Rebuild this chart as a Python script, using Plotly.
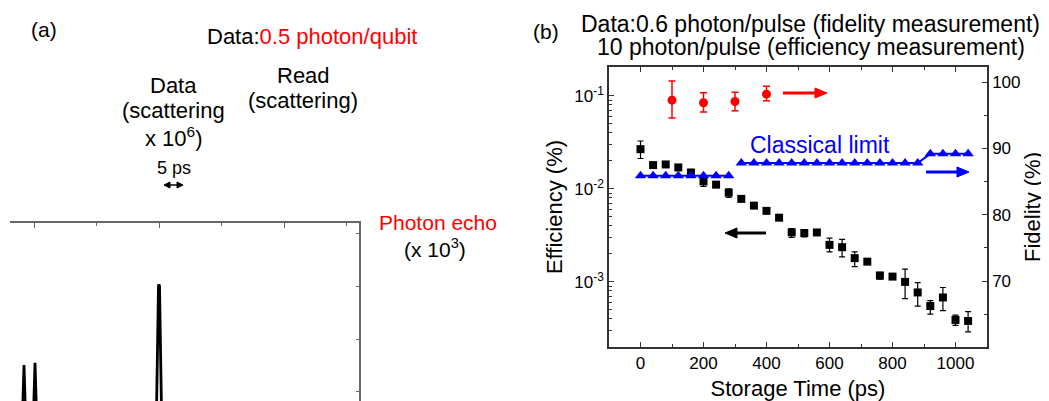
import plotly.graph_objects as go

# The page body has an 8 px margin, so the figure is sized to fill the rest of the window
OFF = 8
W, H = 1049 - OFF, 401 - OFF
FONT = "Liberation Sans, Arial, sans-serif"

# ---------------- panel (a): photon echo trace (visible part) ----------------
echo_t = [-19.0, -9.3, -8.0, -6.7, -0.5, 0.8, 2.1, 97.9, 99.6, 100.0, 100.4, 102.1, 260.0]
echo_y = [-0.5, -0.5, 0.51, -0.5, -0.5, 0.55, -0.5, -0.5, 2.0, 2.03, 2.0, -0.5, -0.5]

# ---------------- panel (b): efficiency / fidelity vs storage time ----------------
eff_t = [0, 40, 80, 120, 160, 200, 240, 280, 320, 360, 400, 440, 480, 520,
         560, 600, 640, 680, 720, 760, 800, 840, 880, 920, 960, 1000, 1040]
eff_v = [0.0267, 0.0180, 0.0183, 0.0170, 0.0150, 0.0120, 0.0111, 0.0091, 0.0078,
         0.0066, 0.0058, 0.0049, 0.00340, 0.00335, 0.00340, 0.00250, 0.00236,
         0.00180, 0.00165, 0.00117, 0.00114, 0.00100, 0.00077, 0.00055, 0.00068,
         0.00039, 0.00038]
eff_err_hi = [0.0060, 0.0008, 0.0008, 0.0007, 0.0006, 0.0013, 0.0005, 0.0009, 0.0003,
              0.0003, 0.0002, 0.0002, 0.00035, 0.0003, 0.0002, 0.00045, 0.0005,
              0.0003, 0.0001, 0.0001, 0.00005, 0.00037, 0.00021, 0.00008, 0.00019,
              0.00005, 0.00010]
eff_err_lo = [0.0055, 0.0008, 0.0008, 0.0007, 0.0006, 0.0014, 0.0005, 0.0010, 0.0003,
              0.0003, 0.0002, 0.0002, 0.00040, 0.0003, 0.0002, 0.00040, 0.0005,
              0.00034, 0.0001, 0.0001, 0.00005, 0.00034, 0.00022, 0.00010, 0.00019,
              0.00005, 0.00009]

fid_t = [100, 200, 300, 400]
fid_v = [97.3, 96.9, 97.1, 98.2]
fid_err_hi = [2.9, 1.5, 1.4, 1.2]
fid_err_lo = [2.7, 1.4, 1.4, 1.0]

cl1_t = [0, 40, 80, 120, 160, 200, 240, 280]
cl1_v = [85.9, 85.9, 85.9, 85.9, 85.9, 85.9, 85.9, 85.9]
cl2_t = [320, 360, 400, 440, 480, 520, 560, 600, 640, 680, 720, 760, 800, 840,
         880, 920, 960, 1000, 1040]
cl2_v = [87.8, 87.8, 87.8, 87.8, 87.8, 87.8, 87.8, 87.8, 87.8, 87.8, 87.8, 87.8,
         87.8, 87.8, 87.8, 89.2, 89.2, 89.2, 89.2]

x_ticks = [0, 200, 400, 600, 800, 1000]
x_minor = [-100, 100, 300, 500, 700, 900, 1100]
eff_ticks = [1e-3, 1e-2, 1e-1]
eff_ticktext = ["10<sup>-3</sup>", "10<sup>-2</sup>", "10<sup>-1</sup>"]
fid_ticks = [70, 80, 90, 100]
fid_minor = [65, 75, 85, 95]

RED, BLUE, BLACK = "#ff0000", "#0000ff", "#000000"
AX = "#333333"


def px(x):
    return (x - OFF) / W


def py(y):
    return 1 - (y - OFF) / H


fig = go.Figure()

fig.add_trace(go.Scatter(x=echo_t, y=echo_y, mode="lines",
                         line=dict(color=BLACK, width=2.8),
                         xaxis="x", yaxis="y", showlegend=False))

fig.add_trace(go.Scatter(x=eff_t, y=eff_v, mode="markers",
                         marker=dict(symbol="square", size=8, color=BLACK),
                         error_y=dict(type="data", symmetric=False, array=eff_err_hi,
                                      arrayminus=eff_err_lo, color=BLACK,
                                      thickness=1.2, width=3),
                         xaxis="x2", yaxis="y2", showlegend=False))

fig.add_trace(go.Scatter(x=cl1_t, y=cl1_v, mode="lines+markers",
                         marker=dict(symbol="triangle-up", size=10, color=BLUE),
                         line=dict(color=BLUE, width=2),
                         xaxis="x2", yaxis="y3", showlegend=False))
fig.add_trace(go.Scatter(x=cl2_t, y=cl2_v, mode="lines+markers",
                         marker=dict(symbol="triangle-up", size=10, color=BLUE),
                         line=dict(color=BLUE, width=2),
                         xaxis="x2", yaxis="y3", showlegend=False))

fig.add_trace(go.Scatter(x=fid_t, y=fid_v, mode="markers",
                         marker=dict(symbol="circle", size=9, color=RED),
                         error_y=dict(type="data", symmetric=False, array=fid_err_hi,
                                      arrayminus=fid_err_lo, color=RED,
                                      thickness=1.5, width=3.5),
                         xaxis="x2", yaxis="y3", showlegend=False))

tickfont = dict(family=FONT, size=17, color=BLACK)
titlefont = dict(family=FONT, size=22, color=BLACK)

fig.update_layout(
    width=W, height=H,
    margin=dict(l=0, r=0, t=0, b=0),
    paper_bgcolor="white", plot_bgcolor="white",
    font=dict(family=FONT, color=BLACK),
    xaxis=dict(domain=[px(10), px(359)], anchor="y", side="top",
               range=[-19.2, 260], showline=True, linecolor="#666666", linewidth=1.5,
               mirror=False, ticks="inside", ticklen=5, tickcolor="#666666",
               tickvals=[0, 100, 200], showticklabels=False, showgrid=False,
               zeroline=False,
               minor=dict(tickvals=[50, 150, 250], ticks="inside", ticklen=3,
                          tickcolor="#666666", showgrid=False)),
    yaxis=dict(domain=[0, py(223)], anchor="x", side="right",
               range=[-0.17, 3.19], showline=True, linecolor="#666666", linewidth=1.5,
               ticks="inside", ticklen=3, tickcolor="#666666",
               tickvals=[0, 1, 2, 3], showticklabels=False, showgrid=False,
               zeroline=False),
    xaxis2=dict(domain=[px(609), px(987)], anchor="y2",
                range=[-100, 1100], showline=True, linecolor=AX, linewidth=1.5,
                mirror="ticks", ticks="inside", ticklen=5, tickcolor=AX,
                tickvals=x_ticks, tickfont=tickfont, showgrid=False, zeroline=False,
                minor=dict(tickvals=x_minor, ticks="inside", ticklen=3,
                           tickcolor=AX, showgrid=False),
                title=dict(text="Storage Time (ps)", font=titlefont, standoff=9)),
    yaxis2=dict(domain=[py(347), py(67)], anchor="x2", type="log",
                range=[-3.70, -0.69], showline=True, linecolor=AX, linewidth=1.5,
                ticks="inside", ticklen=5, tickcolor=AX,
                tickvals=eff_ticks, ticktext=eff_ticktext, tickfont=tickfont,
                showgrid=False, zeroline=False,
                minor=dict(tickvals=[m * d for d in [1e-4, 1e-3, 1e-2]
                                     for m in range(2, 10)],
                           ticks="inside", ticklen=3, tickcolor=AX, showgrid=False),
                title=dict(text="Efficiency (%)", font=titlefont, standoff=6)),
    yaxis3=dict(anchor="x2", overlaying="y2", side="right",
                range=[60.05, 102.3], showline=True, linecolor=AX, linewidth=1.5,
                ticks="inside", ticklen=5, tickcolor=AX,
                tickvals=fid_ticks, tickfont=tickfont, showgrid=False, zeroline=False,
                minor=dict(tickvals=fid_minor, ticks="inside", ticklen=3,
                           tickcolor=AX, showgrid=False),
                title=dict(text="Fidelity (%)", font=titlefont, standoff=5)),
)


def txt(s, x, y, size=22, color=BLACK, xanchor="center"):
    fig.add_annotation(text=s, x=px(x), y=py(y), xref="paper", yref="paper",
                       xanchor=xanchor, yanchor="middle", showarrow=False,
                       font=dict(family=FONT, size=size, color=color))


def head(x_tip, y, direction, color, length, half):
    xb = x_tip - direction * length
    path = (f"M {px(x_tip)},{py(y)} L {px(xb)},{py(y - half)} "
            f"L {px(xb)},{py(y + half)} Z")
    fig.add_shape(type="path", path=path, xref="paper", yref="paper",
                  fillcolor=color, line=dict(color=color, width=1))


def arrow(x_tail, x_tip, y, color, width=3, length=12, half=5, both=False):
    d = 1 if x_tip > x_tail else -1
    x_end = x_tip - d * (length - 1)
    x_start = x_tail + d * (length - 1) if both else x_tail
    fig.add_shape(type="line", x0=px(x_start), x1=px(x_end), y0=py(y), y1=py(y),
                  xref="paper", yref="paper", line=dict(color=color, width=width))
    head(x_tip, y, d, color, length, half)
    if both:
        head(x_tail, y, -d, color, length, half)


# panel (a) texts
txt("(a)", 44, 30, size=21)
txt("Data:<span style='color:#ff0000'>0.5 photon/qubit</span>", 205, 37, xanchor="left")
txt("Data", 173, 85)
txt("(scattering", 173, 111)
txt("x 10<sup>6</sup>)", 173, 137)
txt("Read", 303, 75)
txt("(scattering)", 303, 100)
txt("5 ps", 174, 168, size=18)
arrow(164, 183, 185, BLACK, width=1.5, length=6, half=3, both=True)
txt("Photon echo", 377, 222, size=21, color=RED, xanchor="left")
txt("(x 10<sup>3</sup>)", 435, 248, size=21)

# panel (b) texts
txt("(b)", 546, 32, size=21)
txt("Data:0.6 photon/pulse (fidelity measurement)", 810, 24, size=23)
txt("10 photon/pulse (efficiency measurement)", 811, 47, size=23)
txt("Classical limit", 748, 145, size=23, color=BLUE, xanchor="left")
arrow(783, 827, 93, RED)
arrow(926, 969, 172, BLUE)
arrow(766, 725, 233, BLACK)

fig.write_html("out.html")
